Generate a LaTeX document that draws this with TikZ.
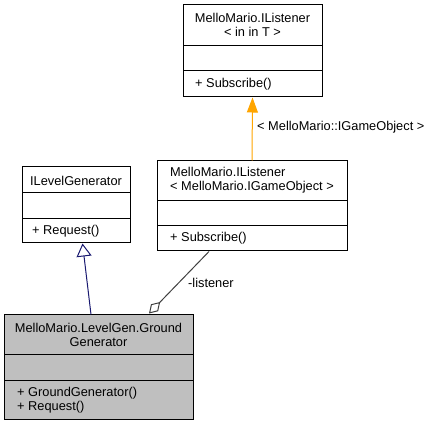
\documentclass[tikz,border=0pt]{standalone}
\usepackage{fontspec}
\setmainfont{Liberation Sans}
\usetikzlibrary{arrows.meta,calc}
\definecolor{navyline}{HTML}{191970}
\definecolor{orangeline}{HTML}{FFA500}
\definecolor{graybg}{HTML}{BFBFBF}
\definecolor{edgegray}{HTML}{404040}
\begin{document}
\begin{tikzpicture}[x=1pt,y=-1pt,
  box/.style={draw=black, line width=1pt, fill=white, inner sep=0pt},
  sep/.style={draw=black, line width=1pt},
  txt/.style={font=\fontsize{12.8}{14.5}\selectfont, inner sep=0pt}]
\useasboundingbox (0,0) rectangle (434,427);

% IListener< in T >
\node[box, minimum width=139pt, minimum height=92pt] (A) at (252.5,51) {};
\draw[sep] (183,46) -- (322,46);
\draw[sep] (183,71) -- (322,71);
\node[txt, align=center] (At) at (252.5,25) {MelloMario.IListener\\< in in T >};
\node[txt, anchor=west] (Am) at (195,84) {+ Subscribe()};

% IListener< IGameObject >
\node[box, minimum width=190pt, minimum height=90pt] (B) at (252,206) {};
\draw[sep] (157,201) -- (347,201);
\draw[sep] (157,226) -- (347,226);
\node[txt, align=left, anchor=west] (Bt) at (170,180) {MelloMario.IListener\\< MelloMario.IGameObject >};
\node[txt, anchor=west] (Bm) at (170,238.5) {+ Subscribe()};

% ILevelGenerator
\node[box, minimum width=108pt, minimum height=76pt] (C) at (76,205) {};
\draw[sep] (22,193) -- (130,193);
\draw[sep] (22,219) -- (130,219);
\node[txt] (Ct) at (76,180.5) {ILevelGenerator};
\node[txt, anchor=west] (Cm) at (32,231.5) {+ Request()};

% GroundGenerator
\node[box, fill=graybg, minimum width=189pt, minimum height=105pt] (D) at (98.5,367.5) {};
\draw[sep] (4,355) -- (193,355);
\draw[sep] (4,381) -- (193,381);
\node[txt, align=center] (Dt) at (98.5,335) {MelloMario.LevelGen.Ground\\Generator};
\node[txt, align=left, anchor=west] (Dm) at (17,400) {+ GroundGenerator()\\+ Request()};

% template instantiation
\draw[orangeline, line width=1pt, -{Triangle[length=15pt,width=11pt]}] (B.north) -- (A.south);
\node[txt, anchor=west] (L1) at (257,127.5) {< MelloMario::IGameObject >};

% inheritance
\draw[navyline, line width=1pt, -{Triangle[open,length=13pt,width=15pt,fill=white]}]
  ($(D.north)+(-7.5,0)$) -- ($(C.south)+(6.5,0)$);

% aggregation
\draw[edgegray, line width=1pt, {Diamond[open,length=16pt,width=10pt,fill=white]}-]
  ($(D.north)+(50.5,-1)$) -- ($(B.south)+(-43,0)$);
\node[txt, anchor=west] (L2) at (188,283) {-listener};
\end{tikzpicture}
\end{document}
